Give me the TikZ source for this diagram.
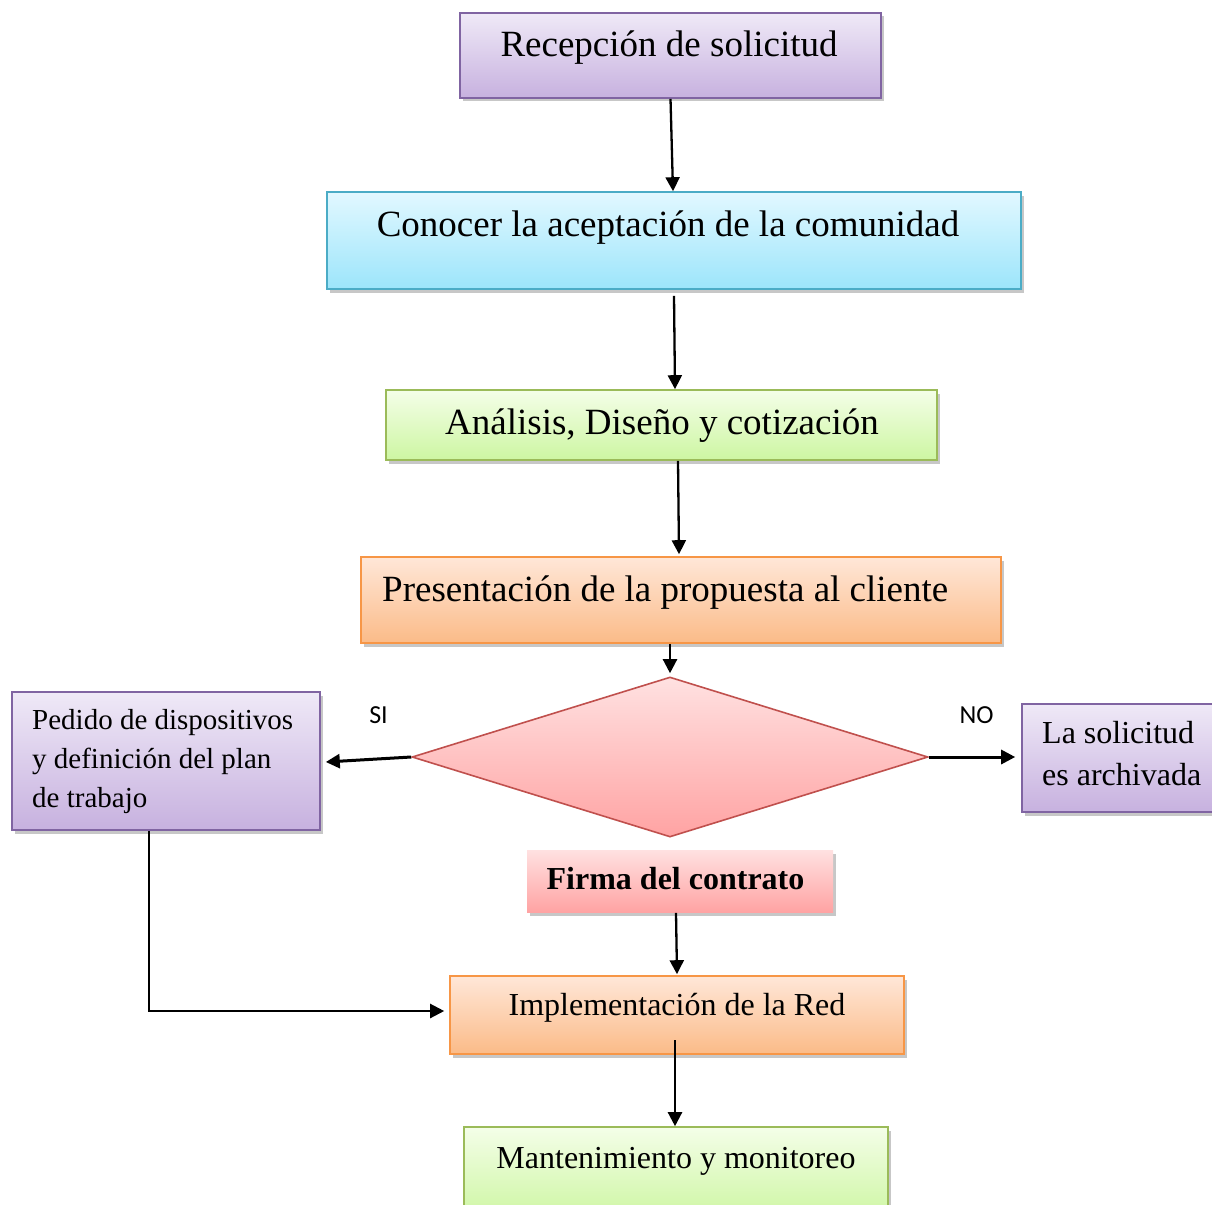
\documentclass[tikz,border=0pt]{standalone}
\usepackage{fontspec}
\setmainfont{Liberation Serif}
\newfontfamily\calfont{Carlito}
\usetikzlibrary{shapes.geometric,arrows.meta,shadows}
\definecolor{purpT}{HTML}{EFE9F7}
\definecolor{purpB}{HTML}{C7B1DF}
\definecolor{purpD}{HTML}{8064A2}
\definecolor{blueT}{HTML}{E2F8FF}
\definecolor{blueB}{HTML}{9CE5FB}
\definecolor{blueD}{HTML}{4BACC6}
\definecolor{grnT}{HTML}{F4FEE8}
\definecolor{grnB}{HTML}{CDF6A2}
\definecolor{grnD}{HTML}{9BBB59}
\definecolor{orgT}{HTML}{FFE7D8}
\definecolor{orgB}{HTML}{FBBB88}
\definecolor{orgD}{HTML}{F79646}
\definecolor{pinkT}{HTML}{FFE1E1}
\definecolor{pinkB}{HTML}{FFA3A3}
\definecolor{pinkD}{HTML}{C0504D}
\tikzset{
  box/.style={rectangle, inner sep=0pt, line width=1.6pt,
    drop shadow={shadow xshift=2.5pt, shadow yshift=-3.5pt, fill=black, opacity=0.22}},
  purpbox/.style={box, draw=purpD, top color=purpT, bottom color=purpB},
  bluebox/.style={box, draw=blueD, top color=blueT, bottom color=blueB},
  grnbox/.style={box, draw=grnD, top color=grnT, bottom color=grnB},
  orgbox/.style={box, draw=orgD, top color=orgT, bottom color=orgB},
  pinkbox/.style={box, top color=pinkT, bottom color=pinkB},
  big/.style={inner sep=0pt, font=\fontsize{37}{44}\selectfont},
  mid/.style={inner sep=0pt, font=\fontsize{32}{38}\selectfont},
  sml/.style={inner sep=0pt, font=\fontsize{29}{35}\selectfont},
  lab/.style={inner sep=0pt, font=\calfont\fontsize{26}{30}\selectfont},
  arr/.style={line width=2.3pt, -{Triangle[length=14pt,width=14pt]}},
  arrT/.style={line width=3pt, -{Triangle[length=14pt,width=14pt]}}
}
\begin{document}
\begin{tikzpicture}[x=1pt,y=-1pt]
\useasboundingbox (0,0) rectangle (1212,1204);
\clip (0,0) rectangle (1212,1204);
\fill[white] (0,0) rectangle (1212,1204);
% boxes
\node[purpbox, minimum width=421pt, minimum height=85pt] (b1) at (670.5,55.5) {};
\node[bluebox, minimum width=694pt, minimum height=97pt] (b2) at (674,240.5) {};
\node[grnbox, minimum width=551pt, minimum height=70pt] (b3) at (661.5,425) {};
\node[orgbox, minimum width=640pt, minimum height=86pt] (b4) at (681,600) {};
\node[diamond, inner sep=0pt, line width=1.6pt, draw=pinkD, top color=pinkT, bottom color=pinkB,
      minimum width=516pt, minimum height=160pt, aspect=3.225] (dec) at (670,757) {};
\node[purpbox, minimum width=308pt, minimum height=138pt] (ped) at (166,761) {};
\node[purpbox, minimum width=203pt, minimum height=108pt] (arch) at (1123.5,758) {};
\node[pinkbox, minimum width=306pt, minimum height=62pt] (firma) at (680,881) {};
\node[orgbox, minimum width=454pt, minimum height=78pt] (impl) at (677,1015) {};
\node[grnbox, minimum width=424pt, minimum height=93pt] (mant) at (676,1173.5) {};
% texts
\node[big, anchor=base] (t1) at (669,57) {Recepción de solicitud};
\node[big, anchor=base] (t2) at (668,236) {Conocer la aceptación de la comunidad};
\node[big, anchor=base] (t3) at (662,434) {Análisis, Diseño y cotización};
\node[big, anchor=base west] (t4) at (382,601) {Presentación de la propuesta al cliente};
\node[sml, anchor=base west] (tp1) at (32,729) {Pedido de dispositivos};
\node[sml, anchor=base west] (tp2) at (32,768) {y definición del plan};
\node[sml, anchor=base west] (tp3) at (32,807) {de trabajo};
\node[mid, anchor=base west] (ta1) at (1042,743) {La solicitud};
\node[mid, anchor=base west] (ta2) at (1042,785) {es archivada};
\node[mid, anchor=base, font=\fontsize{32}{38}\selectfont\bfseries] (tf) at (675.5,889) {Firma del contrato};
\node[mid, anchor=base] (ti) at (677,1015) {Implementación de la Red};
\node[mid, anchor=base] (tm) at (676,1168) {Mantenimiento y monitoreo};
\node[lab, anchor=base] (si) at (378.5,723) {SI};
\node[lab, anchor=base] (no) at (976.5,723) {NO};
% connectors
\draw[arr] (b1.south) -- ([xshift=-1pt]b2.north);
\draw[arr] ([yshift=-6pt]b2.south) -- ([xshift=13.5pt]b3.north);
\draw[arr] ([xshift=16.5pt]b3.south) -- ([xshift=-2pt,yshift=2pt]b4.north);
\draw[arr] ([xshift=-11pt]b4.south) -- ([yshift=3pt]dec.north);
\draw[arrT] (dec.west) -- ([xshift=5pt,yshift=-1pt]ped.east);
\draw[arrT] (dec.east) -- ([xshift=-6pt,yshift=1pt]arch.west);
\draw[arr] ([xshift=-4pt]firma.south) -- ([yshift=1pt]impl.north);
\draw[arr] ([xshift=-17pt]ped.south) |- ([xshift=-5pt,yshift=4pt]impl.west);
\draw[arr] ([xshift=-2pt,yshift=-25pt]impl.center) -- ([xshift=-1pt]mant.north);
\end{tikzpicture}
\end{document}
